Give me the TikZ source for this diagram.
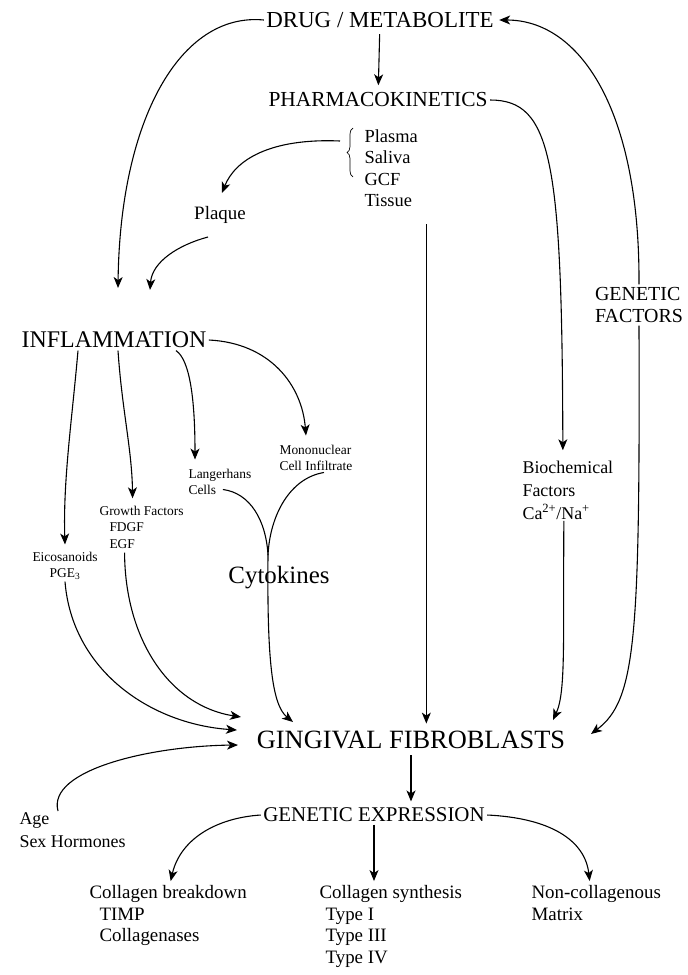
\documentclass[tikz,border=0pt]{standalone}
\usepackage{fontspec}
\setmainfont{Liberation Serif}
\usepackage{tikz}
\usetikzlibrary{arrows.meta}
\usetikzlibrary{decorations.pathreplacing}
\usetikzlibrary{positioning}
\tikzset{auto, >={Stealth[length=11pt,width=9pt,inset=3pt]}, node distance=1cm}
\tikzstyle{title} = [font=\fontsize{21.5}{24}\selectfont, inner sep=2pt]
\tikzstyle{factor} = [font=\fontsize{18.5}{21.5}\selectfont, align=left, inner sep=1pt]
\tikzstyle{detail} = [font=\fontsize{13.5}{16.5}\selectfont, align=left, inner sep=1pt]
\tikzstyle{junction} = [coordinate]

\begin{document}
\begin{tikzpicture}[x=1bp, y=-1bp, line width=1.1pt]
	\useasboundingbox (0,0) rectangle (688,975);

	\node [title, font=\fontsize{23}{25}\selectfont] (drug) at (380,20) {DRUG / METABOLITE};
	\node [title] (pk) at (378,100) {PHARMACOKINETICS};
	\node [factor, anchor=west] (fluids) at (363,168) {Plasma\\Saliva\\GCF\\Tissue};
	\node [factor, font=\fontsize{19}{21}\selectfont] (plaque) at (220,215) {Plaque};
	\node [title, font=\fontsize{24}{26}\selectfont] (infl) at (114,340) {INFLAMMATION};
	\node [title, align=left, font=\fontsize{20}{23}\selectfont] (genf) at (639,305) {GENETIC\\FACTORS};

	\node [detail, anchor=west] (lang) at (187,482) {Langerhans\\Cells};
	\node [detail, anchor=west] (mono) at (278,458) {Mononuclear\\Cell Infiltrate};
	\node [detail, anchor=west] (growth) at (98,527) {Growth Factors\\\hspace*{10pt}FDGF\\\hspace*{10pt}EGF};
	\node [detail, align=center] (eico) at (65,566) {Eicosanoids\\PGE\textsubscript{3}};
	\node [font=\fontsize{25}{27}\selectfont] (cyto) at (279,578) {Cytokines};
	\node [factor, anchor=west, font=\fontsize{18}{23}\selectfont] (bio) at (521,490) {Biochemical\\Factors\\Ca\textsuperscript{2+}/Na\textsuperscript{+}};

	\node [title, font=\fontsize{26.5}{28}\selectfont] (ging) at (411,740) {GINGIVAL FIBROBLASTS};
	\node [factor, anchor=west, font=\fontsize{18}{23}\selectfont] (age) at (18,830) {Age\\Sex Hormones};
	\node [title, font=\fontsize{21}{23}\selectfont] (gexp) at (374,815) {GENETIC EXPRESSION};
	\node [factor, anchor=north west, font=\fontsize{19}{21.7}\selectfont] (cb) at (88,884) {Collagen breakdown\\\hspace*{10pt}TIMP\\\hspace*{10pt}Collagenases};
	\node [factor, anchor=north west, font=\fontsize{19}{21.7}\selectfont] (cs) at (318,884) {Collagen synthesis\\\hspace*{6pt}Type I\\\hspace*{6pt}Type III\\\hspace*{6pt}Type IV};
	\node [factor, anchor=north west, font=\fontsize{19}{21.7}\selectfont] (nc) at (530,884) {Non-collagenous\\Matrix};

	\node [junction] (bt) at (340,141) {};
	\node [junction] (cj) at (268,555) {};

	% drug and its kinetics
	\draw [line width=0.7pt, decorate, decoration={brace, amplitude=6pt}] (353,177) -- (353,128);
	\draw [->, shorten <=4pt, shorten >=5pt] (drug) -- (pk);
	\draw [->] (drug.west) .. controls (180,12) and (120,120) .. ([shift={(4,-52)}]infl.center);
	\draw [->, shorten >=3pt] (genf.north) .. controls (640,110) and (580,20) .. (drug.east);
	\draw [->] (genf.south) .. controls (640,640) and (636,700) .. ([shift={(180,-6)}]ging.center);
	\draw [->] (pk.east) .. controls (552,100) and (562,160) .. ([xshift=-5bp,yshift=9bp]bio.north);
	\draw [->] (bt) .. controls (270,138) and (235,160) .. ([shift={(2,-22)}]plaque.center);
	\draw [->, shorten >=5pt] ([xshift=7bp,yshift=-16bp]fluids.south east) coordinate (ts) -- (ts |- ging.north);
	\draw [->] ([shift={(-12,22)}]plaque.center) .. controls (178,245) and (152,262) .. ([shift={(36,-50)}]infl.center);

	% inflammation mediators
	\draw [->] ([xshift=-36bp]infl.south) .. controls (72,420) and (63,480) .. ([yshift=6bp]eico.north);
	\draw [->] ([xshift=4bp]infl.south) .. controls (122,410) and (132,450) .. ([xshift=-9bp,yshift=6bp]growth.north);
	\draw [->] ([xshift=62bp]infl.south) .. controls (190,360) and (195,400) .. ([xshift=8bp,yshift=8bp]lang.north west);
	\draw [->] (infl.east) .. controls (270,343) and (302,385) .. ([xshift=-10bp,yshift=8bp]mono.north);
	\draw ([xshift=3bp,yshift=7bp]lang.south) .. controls (250,493) and (266,520) .. (cj);
	\draw ([xshift=8bp]mono.south) .. controls (290,478) and (270,515) .. (cj);
	\draw [->] (cj) .. controls (267,660) and (272,705) .. ([shift={(-118,-18)}]ging.center);

	% into the fibroblasts
	\draw [->] ([xshift=-17bp,yshift=-3bp]growth.south) .. controls (125,640) and (170,706) .. ([shift={(-170,-23)}]ging.center);
	\draw [->] (eico.south) .. controls (72,670) and (150,724) .. ([shift={(-174,-10)}]ging.center);
	\draw [->] ([xshift=40bp]age.north west) .. controls (47,770) and (150,746) .. ([shift={(-173,5)}]ging.center);
	\draw [->] ([xshift=-4bp]bio.south) .. controls (563,640) and (566,692) .. ([shift={(142,-20)}]ging.center);

	% expression
	\draw [->, shorten <=4pt, shorten >=4pt] (ging.south) -- (ging.south |- gexp.north);
	\draw [->, shorten >=3pt] (gexp.west) .. controls (215,818) and (180,840) .. ([xshift=82bp]cb.north west);
	\draw [->, shorten >=3pt] (gexp.south) -- (gexp.south |- cs.north);
	\draw [->, shorten >=3pt] (gexp.east) .. controls (550,818) and (585,840) .. ([xshift=60bp]nc.north west);
\end{tikzpicture}
\end{document}
